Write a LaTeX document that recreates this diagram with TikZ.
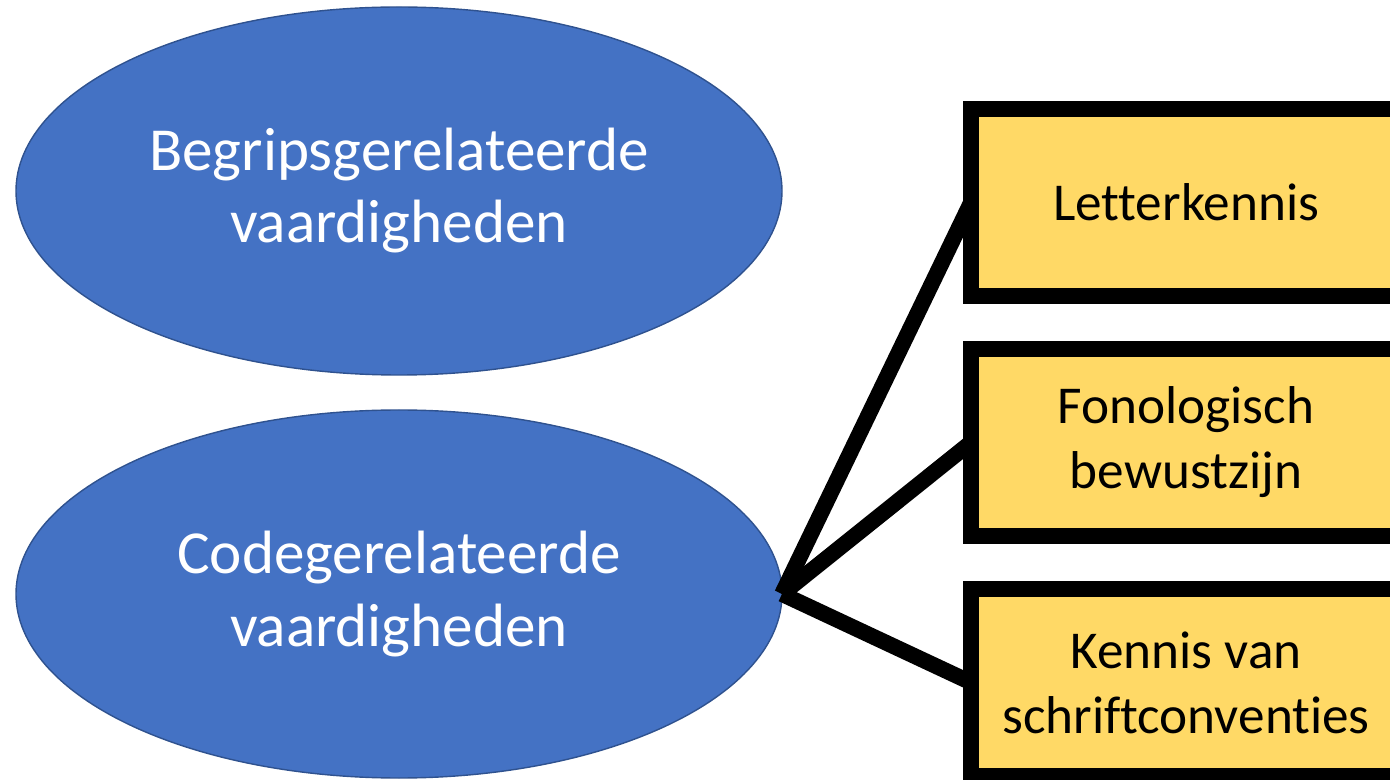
\documentclass[tikz,border=0pt]{standalone}
\usepackage{fontspec}
\setmainfont{Carlito}[Ligatures={NoCommon}]
\usepackage{tikz}
\usetikzlibrary{shapes.geometric, positioning}
\usepackage{xcolor}
\definecolor{skillblue}{HTML}{4472C4}
\definecolor{skilledge}{HTML}{2F528F}
\definecolor{partyellow}{HTML}{FFD966}

\begin{document}
\begin{tikzpicture}[node distance=1.06cm, outer sep=0pt,
        skill/.style={ellipse, draw=skilledge, line width=0.8pt, fill=skillblue, text=white, minimum width=15.32cm, minimum height=7.36cm, inner sep=0pt, align=center, font=\fontsize{34.8}{41}\selectfont},
        part/.style={rectangle, draw=black, line width=9pt, fill=partyellow, minimum width=8.6cm, minimum height=3.74cm, align=center, font=\fontsize{30.3}{37}\selectfont},
        link/.style={draw=black, line width=9pt}
    ]
        \useasboundingbox (0,0) rectangle (27.8,-15.6);

        % Nodes
        \node [skill] (meaning) at (7.98,-3.82) {Begripsgerelateerde\\vaardigheden};
        \node [skill, below=0.7cm of meaning] (code) {Codegerelateerde\\vaardigheden};

        \node [part, anchor=west] (letters) at (19.42,-4.05) {Letterkennis};
        \node [part, below=of letters] (phon) {Fonologisch\\bewustzijn};
        \node [part, below=of phon] (conv) {Kennis van\\schriftconventies};

        % Lines
        \draw [link] (code.east) -- (letters.west);
        \draw [link] (code.east) -- (phon.west);
        \draw [link] (code.east) -- (conv.west);
    \end{tikzpicture}
\end{document}
